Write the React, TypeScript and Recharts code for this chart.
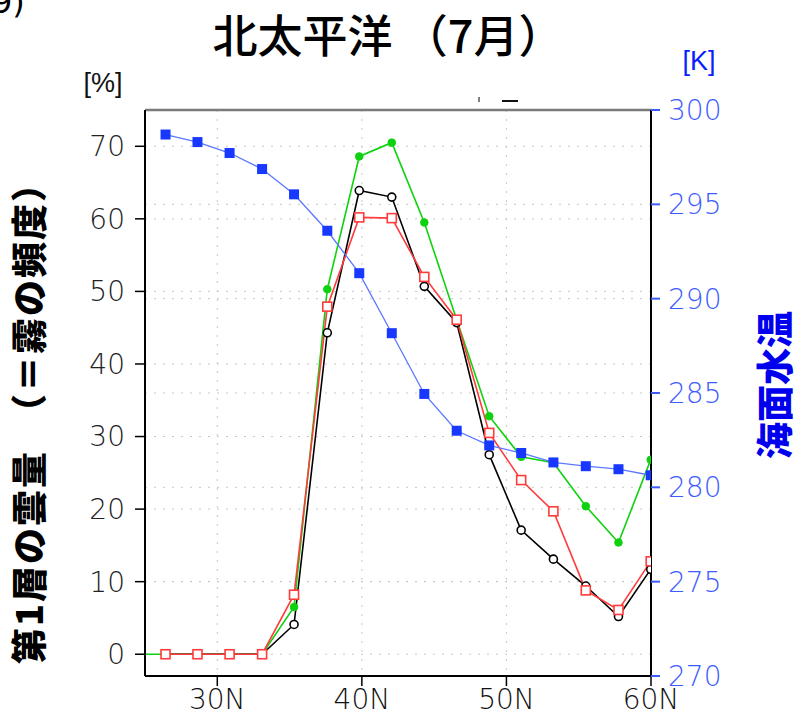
import React from 'react';
import { LineChart, Line, XAxis, YAxis, CartesianGrid, ReferenceLine } from 'recharts';

// Latitudes (°N) of the grid points
const latitudes = [26.42, 28.63, 30.85, 33.1, 35.31, 37.61, 39.82, 42.07, 44.32, 46.56, 48.81, 51.02, 53.25, 55.49, 57.75, 59.98];
// Green series has one more point south of the plotted range
const greenLeadLat = 24.2;
const greenLeadValue = 0;

// Low cloud amount (= fog frequency) [%]
const greenValues = [0, 0, 0, 0, 6.5, 50.3, 68.6, 70.5, 59.5, 46.1, 32.8, 27.2, 26.4, 20.4, 15.4, 26.8];
const blackValues = [0, 0, 0, 0, 4.1, 44.3, 63.9, 63.0, 50.7, 45.7, 27.5, 17.1, 13.1, 9.4, 5.2, 11.7];
const redValues = [0, 0, 0, 0, 8.2, 47.9, 60.2, 60.1, 52.0, 46.1, 30.5, 24.0, 19.7, 8.8, 6.1, 12.8];
// Sea surface temperature [K]
const sstValues = [298.7, 298.3, 297.72, 296.87, 295.53, 293.6, 291.35, 288.17, 284.95, 283.0, 282.22, 281.82, 281.32, 281.12, 280.96, 280.64];

const xTicks = [30, 40, 50, 60];
const leftTicks = [0, 10, 20, 30, 40, 50, 60, 70];
const rightTicks = [270, 275, 280, 285, 290, 295, 300];

const titleText = '北太平洋 （7月）';
const leftLabel = '第1層の雲量　（＝霧の頻度）';
const rightLabel = '海面水温';

const greenData = [{ lat: greenLeadLat, v: greenLeadValue }, ...latitudes.map((lat, i) => ({ lat, v: greenValues[i] }))];
const blackData = latitudes.map((lat, i) => ({ lat, v: blackValues[i] }));
const redData = latitudes.map((lat, i) => ({ lat, v: redValues[i] }));
const sstData = latitudes.map((lat, i) => ({ lat, v: sstValues[i] }));

const NUM_FONT = '"DejaVu Sans", sans-serif';
const CJK_FONT = '"Noto Sans CJK JP", sans-serif';

const redSquare = (p: any) => {
  if (p.cx == null || p.cy == null) return <g key={p.index} />;
  return <rect key={`r${p.index}`} x={p.cx - 4.5} y={p.cy - 4.5} width={9} height={9} fill="#ffffff" stroke="#ff3b3b" strokeWidth={1.6} />;
};
const blueSquare = (p: any) => {
  if (p.cx == null || p.cy == null) return <g key={p.index} />;
  return <rect key={`b${p.index}`} x={p.cx - 5} y={p.cy - 5} width={10} height={10} fill="#1838ff" stroke="none" />;
};

export default function App() {
  return (
    <div style={{ position: 'absolute', left: 0, top: 0, width: 798, height: 721, background: '#fff' }}>
      <LineChart width={798} height={721} margin={{ top: 110, right: 57, bottom: 5, left: 85 }}>
        <CartesianGrid xAxisId="x" yAxisId="left" stroke="#c8c8c8" strokeDasharray="2 7" horizontal={true} vertical={true} />
        <CartesianGrid xAxisId="x" yAxisId="right" stroke="#c8c8c8" strokeDasharray="2 7" horizontal={true} vertical={false} />
        <XAxis
          xAxisId="x"
          type="number"
          dataKey="lat"
          domain={[25, 60]}
          allowDataOverflow
          ticks={xTicks}
          tickFormatter={(v: number) => `${v}N`}
          height={40}
          tickSize={10}
          tickMargin={3}
          tick={{ fill: '#111', fontSize: 28, fontWeight: 200, fontFamily: NUM_FONT }}
          axisLine={{ stroke: '#000', strokeWidth: 2 }}
          tickLine={{ stroke: '#000', strokeWidth: 1.5 }}
        />
        <YAxis
          yAxisId="left"
          type="number"
          domain={[-3, 75]}
          allowDataOverflow
          ticks={leftTicks}
          width={60}
          tickSize={10}
          tickMargin={10}
          tick={{ fill: '#222', fontSize: 28, fontWeight: 200, fontFamily: NUM_FONT }}
          axisLine={{ stroke: '#000', strokeWidth: 2 }}
          tickLine={{ stroke: '#000', strokeWidth: 1.5 }}
        />
        <YAxis
          yAxisId="right"
          orientation="right"
          type="number"
          domain={[270, 300]}
          allowDataOverflow
          ticks={rightTicks}
          width={90}
          tickSize={9}
          tickMargin={8}
          tick={{ fill: '#3d5cff', fontSize: 28, fontWeight: 200, fontFamily: NUM_FONT }}
          axisLine={{ stroke: '#000', strokeWidth: 2 }}
          tickLine={{ stroke: '#3d5cff', strokeWidth: 2 }}
        />
        <ReferenceLine xAxisId="x" yAxisId="left" y={75} stroke="#7a7a7a" strokeWidth={2.5} />
        <Line xAxisId="x" yAxisId="left" data={greenData} dataKey="v" type="linear" stroke="#0fd20f" strokeWidth={1.6}
          dot={{ r: 3.8, fill: '#0fd20f', stroke: '#0fd20f', strokeWidth: 1 }} isAnimationActive={false} />
        <Line xAxisId="x" yAxisId="left" data={blackData} dataKey="v" type="linear" stroke="#000" strokeWidth={1.6}
          dot={{ r: 4, fill: '#fff', stroke: '#000', strokeWidth: 1.6 }} isAnimationActive={false} />
        <Line xAxisId="x" yAxisId="left" data={redData} dataKey="v" type="linear" stroke="#ff3b3b" strokeWidth={1.6}
          dot={redSquare} isAnimationActive={false} />
        <Line xAxisId="x" yAxisId="right" data={sstData} dataKey="v" type="linear" stroke="#5a78ff" strokeWidth={1.3}
          dot={blueSquare} isAnimationActive={false} />
      </LineChart>
      <svg width={798} height={721} style={{ position: 'absolute', left: 0, top: 0, pointerEvents: 'none' }}>
        <text x={-8} y={13} fontSize={32} fontFamily={NUM_FONT} fill="#000">9)</text>
        <text x={388} y={53} textAnchor="middle" fontSize={45} fontWeight={500} fontFamily={CJK_FONT} fill="#000">{titleText}</text>
        <text x={103} y={92} textAnchor="middle" fontSize={27} fontFamily='"Liberation Sans", sans-serif' fill="#111">[%]</text>
        <text x={699} y={70} textAnchor="middle" fontSize={27} fontFamily='"Liberation Sans", sans-serif' fill="#0a1eff">[K]</text>
        <line x1={479} y1={97} x2={479} y2={102} stroke="#555" strokeWidth={1.5} />
        <line x1={502} y1={101} x2={518} y2={101} stroke="#111" strokeWidth={2} />
        <text transform="translate(27,414) rotate(-90)" textAnchor="middle" dominantBaseline="central" fontSize={36} letterSpacing={2} fontWeight={900} fontFamily={CJK_FONT} fill="#000">{leftLabel}</text>
        <text transform="translate(773,385) rotate(-90)" textAnchor="middle" dominantBaseline="central" fontSize={37} fontWeight={900} fontFamily={CJK_FONT} fill="#0000ee">{rightLabel}</text>
      </svg>
    </div>
  );
}
